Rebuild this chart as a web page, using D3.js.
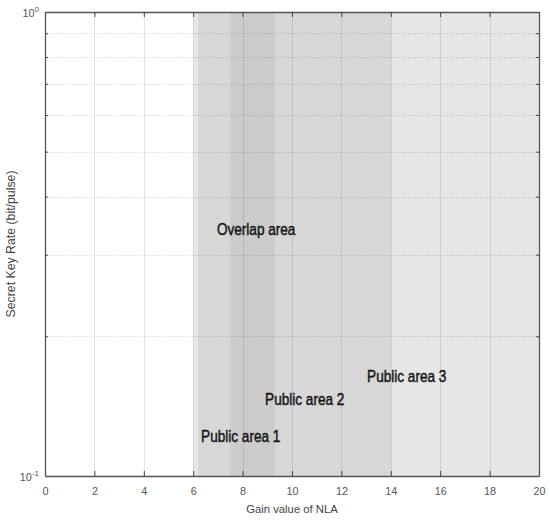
<!DOCTYPE html>
<html><head><meta charset="utf-8">
<script src="https://cdn.jsdelivr.net/npm/d3@7"></script>
<style>body{margin:0;background:#fff}svg{display:block}</style>
</head><body><svg id="c" width="550" height="521"></svg>
<script>
// ---- data ----
const xTicks = [0,2,4,6,8,10,12,14,16,18,20];
const yMajor = [0.1, 1];
const yMinor = [0.2,0.3,0.4,0.5,0.6,0.7,0.8,0.9];
// shaded regions [start, end] in gain units
const areaNames = ["Public area 3","Public area 1","Public area 2"];
const areaStart = [6.0, 6.2, 7.5];
const areaEnd   = [20, 9.3, 14.0];
const areaFill  = ["#e6e6e6","#9b9b9b","#9b9b9b"];
const areaOpacity = [1, 0.2, 0.2];
// annotation labels: text, x (gain), y (key rate)
const labelText = ["Overlap area","Public area 1","Public area 2","Public area 3"];
const labelX = [6.96, 6.32, 8.91, 13.04];
const labelY = [0.331, 0.1184, 0.1422, 0.1594];
const xTitle = "Gain value of NLA";
const yTitle = "Secret Key Rate (bit/pulse)";

// ---- layout ----
const L=45, R=539, T=12, B=476;
const svg = d3.select("#c");
const x = d3.scaleLinear().domain([0,20]).range([L,R]);
const y = d3.scaleLog().domain([0.1,1]).range([B,T]);

// regions
svg.append("g").selectAll("rect").data(areaStart).join("rect")
  .attr("x",(d,i)=>x(d)).attr("y",T)
  .attr("width",(d,i)=>x(areaEnd[i])-x(d)).attr("height",B-T)
  .attr("fill",(d,i)=>areaFill[i]).attr("fill-opacity",(d,i)=>areaOpacity[i]);

// grid
const g = svg.append("g");
g.selectAll(".vg").data(xTicks.slice(1,-1)).join("line")
  .attr("x1",d=>Math.round(x(d))+0.5).attr("x2",d=>Math.round(x(d))+0.5)
  .attr("y1",T).attr("y2",B).attr("stroke","#000").attr("stroke-opacity",0.1);
g.selectAll(".hg").data(yMinor).join("line")
  .attr("x1",L).attr("x2",R)
  .attr("y1",d=>Math.round(y(d))+0.5).attr("y2",d=>Math.round(y(d))+0.5)
  .attr("stroke","#000").attr("stroke-opacity",0.13).attr("stroke-dasharray","1.5,1.5");

// axes
const axCol="#555";
const xb = d3.axisBottom(x).tickValues(xTicks).tickSizeInner(-5).tickSizeOuter(0).tickPadding(11);
const xt = d3.axisTop(x).tickValues(xTicks).tickSizeInner(-5).tickSizeOuter(0).tickFormat("");
const yl = d3.axisLeft(y).tickValues(yMinor).tickSizeInner(-3).tickSizeOuter(0).tickFormat("");
const yr = d3.axisRight(y).tickValues(yMinor).tickSizeInner(-3).tickSizeOuter(0).tickFormat("");
function style(sel){
  sel.selectAll("path").attr("stroke",axCol).attr("stroke-width",1.3);
  sel.selectAll("line").attr("stroke","#444");
  sel.selectAll("text").attr("fill","#555").attr("font-family","Liberation Sans, Arial, sans-serif").attr("font-size",10.8);
}
svg.append("g").attr("transform",`translate(0,${B})`).call(xb).call(style);
svg.append("g").attr("transform",`translate(0,${T})`).call(xt).call(style);
svg.append("g").attr("transform",`translate(${L},0)`).call(yl).call(style);
svg.append("g").attr("transform",`translate(${R},0)`).call(yr).call(style);

// y major labels 10^0, 10^-1
const yl2 = svg.append("g").attr("font-family","Liberation Sans, Arial, sans-serif").attr("fill","#555");
yMajor.forEach(v=>{
  const e = Math.round(Math.log10(v));
  const t = yl2.append("text").attr("x",L-6).attr("y",y(v)+5).attr("text-anchor","end").attr("font-size",10.8);
  t.append("tspan").text("10");
  t.append("tspan").attr("dy",-5).attr("font-size",8).text(String(e));
});

// titles
svg.append("text").attr("x",(L+R)/2).attr("y",513).attr("text-anchor","middle")
  .attr("font-family","Liberation Sans, Arial, sans-serif").attr("font-size",11.3).attr("fill","#444").text(xTitle);
svg.append("text").attr("transform",`translate(15,${(T+B)/2}) rotate(-90)`).attr("text-anchor","middle")
  .attr("font-family","Liberation Sans, Arial, sans-serif").attr("font-size",12.3).attr("fill","#444").text(yTitle);

// annotations (condensed look via horizontal scaling)
svg.append("g").selectAll("text").data(labelText).join("text")
  .attr("transform",(d,i)=>`translate(${x(labelX[i])},${y(labelY[i])}) scale(0.85,1)`)
  .attr("font-family","'Liberation Sans', Arial, sans-serif")
  .attr("font-size",16).attr("fill","#151515").attr("stroke","#151515").attr("stroke-width",0.45)
  .text(d=>d);
</script></body></html>
